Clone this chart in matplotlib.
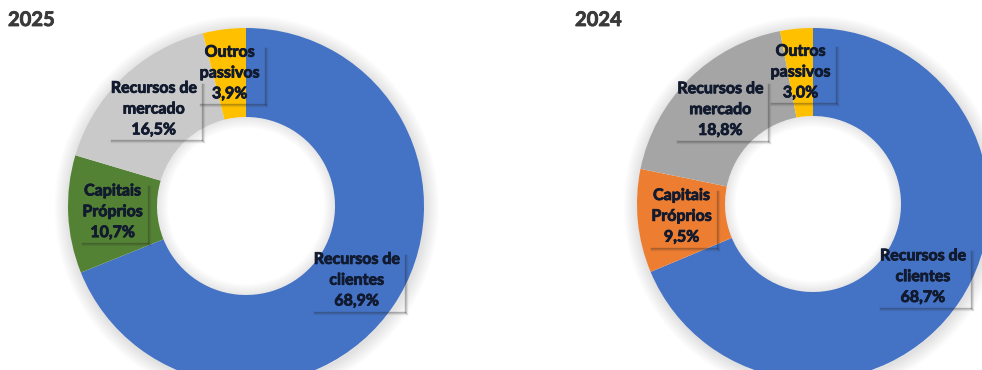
import matplotlib
matplotlib.use("Agg")
import matplotlib.pyplot as plt
import matplotlib.patheffects as pe
from matplotlib.patches import Wedge
from matplotlib.lines import Line2D
import numpy as np

# passivo por rubrica, em % do total
categorias = ["Recursos de\nclientes", "Capitais\nPróprios", "Recursos de\nmercado", "Outros\npassivos"]
anos = ["2025", "2024"]
valores_2025 = [68.9, 10.7, 16.5, 3.9]
valores_2024 = [68.7, 9.5, 18.8, 3.0]

cores_2025 = ["#4472C4", "#548235", "#C9C9C9", "#FFC000"]
cores_2024 = ["#4472C4", "#ED7D31", "#A5A5A5", "#FFC000"]

plt.rcParams['font.family'] = ['Lato', 'DejaVu Sans']

W, H = 982, 370
fig = plt.figure(figsize=(W / 100, H / 100), dpi=100)
fig.patch.set_facecolor("white")

# centro (px a partir do topo) e raio de cada anel
centros = [(246, 206, 178), (813, 204, 176)]
dados = [valores_2025, valores_2024]
cores = [cores_2025, cores_2024]

negrito = [pe.withStroke(linewidth=0.6, foreground="#111a2e")]

textos = []
for i in range(2):
    cx, cy, r = centros[i]
    lado = 420
    ax = fig.add_axes([(cx - lado / 2) / W, (H - cy - lado / 2) / H, lado / W, lado / H])

    wedges, _ = ax.pie(dados[i], colors=cores[i], radius=1.0, startangle=90,
                       counterclock=False, wedgeprops=dict(width=0.5, linewidth=0))
    for w in wedges:
        w.set_zorder(2)

    s = (lado / 2) / r
    ax.set_xlim(-s, s)
    ax.set_ylim(-s, s)
    ax.set_aspect("equal")
    ax.axis("off")

    # sombra suave por fora do anel
    for k in range(10):
        ax.add_patch(Wedge((0.004, -0.01), 1.0 + (k + 1) * 0.008, 0, 360,
                           width=(k + 1) * 0.008 + 0.01, fc="#000000", ec="none",
                           alpha=0.011, zorder=1))

    # sombra interior do buraco
    for k in range(6):
        ax.add_patch(Wedge((0.0, 0.0), 0.5, 0, 360, width=0.01 * (k + 1),
                           fc="#000000", ec="none", alpha=0.015, zorder=3))

    for w, cat, v in zip(wedges, categorias, dados[i]):
        ang = np.deg2rad((w.theta1 + w.theta2) / 2)
        x, y = 0.75 * np.cos(ang), 0.75 * np.sin(ang)
        rotulo = f"{cat}\n{v:.1f}%".replace(".", ",")
        t = ax.text(x, y, rotulo, ha="center", va="center", fontsize=11.5,
                    fontweight="bold", color="#111a2e", linespacing=1.62, zorder=5,
                    path_effects=negrito)
        textos.append(t)

    fig.text((cx - 238) / W, 1 - 20 / H, anos[i], fontsize=14.5, fontweight="bold",
             color="#3a3a3a", ha="left", va="center",
             path_effects=[pe.withStroke(linewidth=0.6, foreground="#3a3a3a")])

# sombra das caixas dos rótulos (lado direito e de baixo)
fig.canvas.draw()
rend = fig.canvas.get_renderer()
for t in textos:
    bb = t.get_window_extent(rend)
    x0, x1 = bb.x0 - 5, bb.x1 + 5
    y0, y1 = bb.y0 - 3, bb.y1 + 3
    for k, a in enumerate([0.3, 0.16, 0.07]):
        fig.add_artist(Line2D([(x1 + k) / W, (x1 + k) / W], [(y0 - k) / H, (y1 - 5) / H],
                              color="#222222", alpha=a, lw=1, zorder=6))
        fig.add_artist(Line2D([(x0 + 5) / W, (x1 + k) / W], [(y0 - k) / H, (y0 - k) / H],
                              color="#222222", alpha=a, lw=1, zorder=6))

fig.savefig("out.png", dpi=100)
